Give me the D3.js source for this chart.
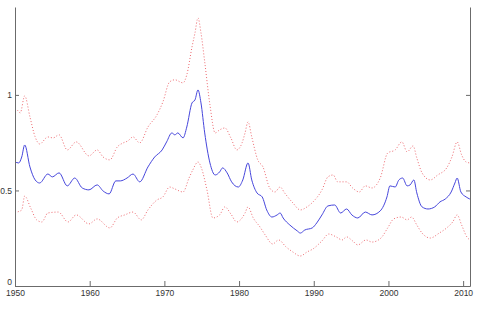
<!DOCTYPE html>
<html><head><meta charset="utf-8">
<script src="https://cdn.jsdelivr.net/npm/d3@7"></script>
<style>html,body{margin:0;padding:0;background:#fff;}svg{display:block;}</style>
</head><body><svg id="c" width="480" height="316"></svg>
<script>
const xTicks = [1950,1960,1970,1980,1990,2000,2010];
const yTicks = [0,0.5,1];
const yTickLabels = ["0","0.5","1"];

const midYears = [1950.0,1950.5,1950.9,1951.3,1952.0,1952.7,1953.3,1954.4,1955.0,1955.9,1957.0,1958.0,1959.0,1959.9,1961.0,1961.8,1962.6,1963.5,1964.1,1965.0,1965.8,1966.7,1967.8,1968.7,1969.7,1970.3,1971.0,1971.4,1971.8,1972.5,1973.0,1973.7,1974.1,1974.5,1974.9,1975.4,1976.1,1976.8,1977.4,1977.8,1978.4,1979.0,1979.9,1980.5,1981.2,1981.7,1982.4,1983.1,1983.7,1984.4,1985.1,1985.5,1985.9,1986.8,1987.8,1988.2,1988.8,1989.8,1990.4,1991.1,1991.9,1992.8,1993.6,1994.4,1995.1,1995.9,1996.9,1997.8,1998.9,1999.8,2000.2,2000.9,2001.4,2001.9,2002.5,2002.9,2003.4,2003.8,2004.5,2005.3,2006.2,2006.9,2007.6,2008.4,2008.9,2009.2,2009.7,2010.4,2010.9];
const midValues = [0.649,0.644,0.675,0.738,0.623,0.555,0.539,0.586,0.571,0.592,0.524,0.565,0.513,0.503,0.529,0.497,0.482,0.550,0.550,0.565,0.586,0.545,0.623,0.675,0.712,0.754,0.801,0.791,0.801,0.775,0.832,0.958,0.974,1.026,0.958,0.801,0.644,0.581,0.597,0.618,0.592,0.545,0.518,0.555,0.644,0.555,0.487,0.466,0.398,0.361,0.372,0.382,0.356,0.319,0.288,0.277,0.293,0.304,0.330,0.372,0.419,0.424,0.382,0.403,0.372,0.356,0.387,0.372,0.393,0.466,0.524,0.518,0.555,0.565,0.524,0.529,0.555,0.487,0.414,0.403,0.414,0.440,0.455,0.492,0.539,0.565,0.492,0.466,0.455];

const upperYears = [1950.0,1950.3,1950.7,1951.3,1952.0,1952.7,1953.3,1954.4,1955.1,1955.9,1957.0,1958.2,1959.9,1961.0,1961.8,1962.7,1963.7,1964.5,1965.1,1965.8,1966.7,1967.8,1969.0,1969.8,1970.7,1971.4,1972.5,1973.0,1973.7,1974.1,1974.5,1974.9,1975.4,1976.1,1976.8,1977.4,1978.1,1978.9,1979.7,1980.4,1980.8,1981.2,1981.7,1982.5,1983.2,1984.1,1984.8,1985.5,1986.1,1987.2,1988.2,1989.1,1989.9,1991.1,1991.9,1992.6,1993.2,1994.4,1995.2,1996.1,1996.9,1997.8,1998.9,1999.9,2000.9,2001.8,2002.5,2003.3,2003.8,2004.5,2005.6,2006.6,2007.8,2008.5,2009.2,2009.8,2010.4,2010.9];
const upperValues = [0.93,0.921,0.906,0.995,0.885,0.780,0.743,0.780,0.775,0.791,0.712,0.754,0.681,0.712,0.675,0.660,0.728,0.749,0.759,0.780,0.749,0.832,0.895,0.963,1.068,1.079,1.063,1.105,1.251,1.325,1.403,1.325,1.173,0.948,0.801,0.817,0.827,0.775,0.712,0.749,0.801,0.859,0.780,0.660,0.623,0.513,0.492,0.518,0.487,0.435,0.398,0.414,0.440,0.503,0.571,0.581,0.545,0.545,0.513,0.492,0.524,0.513,0.565,0.696,0.712,0.754,0.702,0.733,0.670,0.592,0.555,0.581,0.618,0.675,0.754,0.686,0.649,0.644];

const lowerYears = [1950.0,1950.3,1950.9,1951.3,1952.1,1952.9,1953.6,1954.4,1955.8,1957.1,1958.2,1959.9,1961.0,1962.7,1963.7,1964.7,1965.8,1966.9,1967.8,1969.0,1969.8,1970.7,1971.4,1972.5,1973.3,1973.8,1974.5,1975.0,1975.7,1976.5,1977.4,1978.1,1978.9,1979.7,1980.3,1980.8,1981.2,1981.9,1982.8,1983.5,1984.5,1985.3,1986.3,1987.2,1988.2,1989.1,1989.9,1991.1,1992.0,1993.0,1993.8,1994.4,1995.2,1995.9,1997.0,1997.8,1999.0,1999.9,2000.7,2001.7,2002.5,2003.1,2003.8,2004.5,2005.6,2006.8,2007.8,2008.6,2009.2,2009.8,2010.5,2010.9];
const lowerValues = [0.382,0.387,0.398,0.471,0.408,0.346,0.335,0.382,0.387,0.335,0.372,0.325,0.351,0.304,0.356,0.372,0.387,0.346,0.398,0.450,0.466,0.518,0.508,0.492,0.565,0.607,0.649,0.613,0.503,0.356,0.372,0.414,0.377,0.335,0.351,0.382,0.414,0.356,0.309,0.267,0.220,0.241,0.204,0.178,0.157,0.178,0.194,0.236,0.272,0.257,0.241,0.257,0.236,0.215,0.241,0.230,0.251,0.304,0.351,0.361,0.346,0.361,0.319,0.277,0.251,0.277,0.304,0.335,0.372,0.319,0.257,0.241];

const svg = d3.select("#c");
const x = d3.scaleLinear().domain([1950, 2010.92]).range([15, 470]);
const y = d3.scaleLinear().domain([0, 1.46]).range([286, 7]);
const axisColor = "#6b6b6b";
const font = "'Liberation Sans Narrow', 'Arial Narrow', sans-serif";

function line(ys, vs){
  return d3.line().x((d,i)=>x(ys[i])).y(d=>y(d)).curve(d3.curveMonotoneX)(vs);
}

const redColor = "#ee6a70";
svg.append("path").attr("d", line(upperYears, upperValues)).attr("fill","none")
  .attr("stroke",redColor).attr("stroke-width",1).attr("stroke-dasharray","1,2");
svg.append("path").attr("d", line(lowerYears, lowerValues)).attr("fill","none")
  .attr("stroke",redColor).attr("stroke-width",1).attr("stroke-dasharray","1,2");
svg.append("path").attr("d", line(midYears, midValues)).attr("fill","none")
  .attr("stroke","#4646dc").attr("stroke-width",1);

// Bottom axis (ticks inward)
const xAxis = d3.axisBottom(x).tickValues(xTicks).tickFormat(d3.format("d")).tickSizeInner(-5).tickSizeOuter(0).tickPadding(4);
const gx = svg.append("g").attr("transform","translate(0,286)").call(xAxis);
gx.select(".domain").attr("stroke",axisColor);
gx.selectAll(".tick line").attr("stroke",axisColor);
gx.selectAll(".tick text").attr("font-family",font).attr("font-size","8.5px").attr("fill","#333").attr("dy","0.72em");

// Left axis
const yAxis = d3.axisLeft(y).tickValues(yTicks).tickFormat((d,i)=>yTickLabels[i]).tickSizeInner(-4).tickSizeOuter(0).tickPadding(3);
const gy = svg.append("g").attr("transform","translate(15,0)").call(yAxis);
gy.select(".domain").attr("stroke",axisColor);
gy.selectAll(".tick line").attr("stroke",axisColor);
gy.selectAll(".tick text").attr("font-family",font).attr("font-size","8.5px").attr("fill","#333")
  .attr("dy",(d)=> d===0 ? "-0.12em" : "0.32em");

// Right axis (ticks only)
const yAxisR = d3.axisRight(y).tickValues(yTicks).tickFormat("").tickSizeInner(-4).tickSizeOuter(0);
const gr = svg.append("g").attr("transform","translate(470,0)").call(yAxisR);
gr.select(".domain").attr("stroke",axisColor);
gr.selectAll(".tick line").attr("stroke",axisColor);
</script></body></html>
